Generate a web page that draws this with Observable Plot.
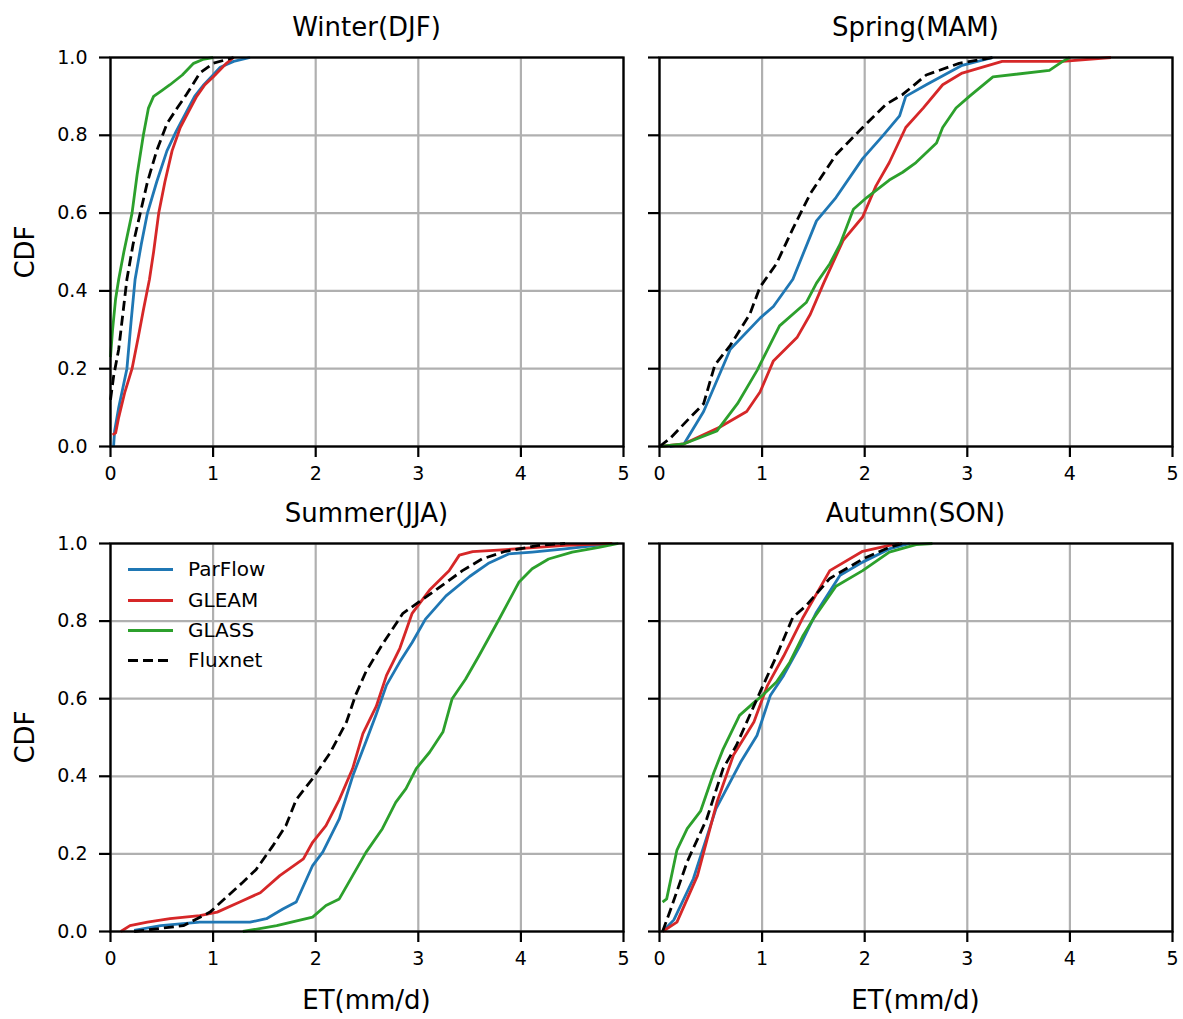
<!DOCTYPE html>
<html>
<head>
<meta charset="utf-8">
<script src="https://cdn.jsdelivr.net/npm/d3@7"></script>
<script src="https://cdn.jsdelivr.net/npm/@observablehq/plot@0.6"></script>
<style>
  body { margin: 0; background: white; font-family: "DejaVu Sans", sans-serif; }
  #fig { position: relative; width: 1183px; height: 1019px; background: white; overflow: hidden; }
  #fig > .p { position: absolute; }
  .title, .lab { position: absolute; color: black; font-size: 26px; white-space: nowrap; }
  .leg { position: absolute; font-size: 20px; color: black; }
</style>
</head>
<body>
<div id="fig"></div>
<script>
// ---------------- data (x = ET in mm/d, y = CDF) ----------------
const seriesNames = ["ParFlow", "GLEAM", "GLASS", "Fluxnet"];
const seriesColors = ["#1f77b4", "#d62728", "#2ca02c", "black"];
const panelTitles = ["Winter(DJF)", "Spring(MAM)", "Summer(JJA)", "Autumn(SON)"];
const xTicks = [0, 1, 2, 3, 4, 5];
const yTicks = [0, 0.2, 0.4, 0.6, 0.8, 1.0];

const winterParFlow = [[0.03,0.0],[0.04,0.04],[0.08,0.1],[0.16,0.2],[0.2,0.32],[0.24,0.43],[0.3,0.52],[0.36,0.6],[0.45,0.68],[0.55,0.76],[0.64,0.81],[0.74,0.86],[0.82,0.9],[0.91,0.93],[1.0,0.955],[1.07,0.975],[1.2,0.99],[1.36,1.0]];
const winterGLEAM = [[0.02,0.03],[0.05,0.035],[0.08,0.075],[0.14,0.14],[0.21,0.2],[0.27,0.28],[0.32,0.35],[0.38,0.43],[0.42,0.5],[0.47,0.6],[0.53,0.68],[0.6,0.76],[0.68,0.82],[0.76,0.86],[0.84,0.9],[0.92,0.93],[1.0,0.95],[1.13,0.985],[1.2,1.0]];
const winterGLASS = [[0.0,0.23],[0.02,0.3],[0.05,0.38],[0.08,0.43],[0.13,0.5],[0.21,0.6],[0.26,0.7],[0.32,0.8],[0.37,0.87],[0.42,0.9],[0.5,0.915],[0.58,0.93],[0.7,0.955],[0.81,0.985],[0.9,0.995],[1.0,1.0]];
const winterFluxnet = [[0.0,0.12],[0.03,0.18],[0.08,0.25],[0.16,0.43],[0.22,0.52],[0.29,0.6],[0.36,0.68],[0.45,0.76],[0.55,0.83],[0.65,0.87],[0.74,0.905],[0.8,0.93],[0.87,0.96],[1.0,0.985],[1.2,1.0]];

const springParFlow = [[0.1,0.0],[0.24,0.007],[0.43,0.09],[0.69,0.25],[0.98,0.33],[1.11,0.36],[1.3,0.43],[1.53,0.58],[1.72,0.64],[1.98,0.74],[2.18,0.8],[2.34,0.85],[2.4,0.9],[2.6,0.93],[2.95,0.98],[3.25,1.0]];
const springGLEAM = [[0.0,0.0],[0.24,0.007],[0.59,0.05],[0.85,0.09],[0.98,0.14],[1.11,0.22],[1.34,0.28],[1.47,0.34],[1.6,0.42],[1.79,0.53],[1.98,0.59],[2.11,0.67],[2.24,0.73],[2.4,0.82],[2.57,0.87],[2.76,0.93],[2.95,0.96],[3.34,0.99],[3.93,0.99],[4.4,1.0]];
const springGLASS = [[0.0,0.0],[0.24,0.007],[0.56,0.04],[0.76,0.11],[0.95,0.195],[1.17,0.31],[1.43,0.37],[1.53,0.42],[1.66,0.47],[1.76,0.52],[1.89,0.61],[2.02,0.64],[2.24,0.685],[2.37,0.705],[2.5,0.73],[2.7,0.78],[2.76,0.82],[2.89,0.87],[3.02,0.9],[3.25,0.95],[3.8,0.967],[3.93,0.99],[4.0,1.0]];
const springFluxnet = [[0.0,0.0],[0.1,0.02],[0.3,0.075],[0.43,0.11],[0.54,0.21],[0.69,0.26],[0.88,0.34],[0.98,0.41],[1.14,0.47],[1.3,0.56],[1.47,0.65],[1.72,0.75],[1.98,0.82],[2.21,0.88],[2.37,0.905],[2.6,0.955],[2.92,0.985],[3.25,1.0]];

const summerParFlow = [[0.23,0.003],[0.49,0.015],[0.87,0.024],[1.36,0.024],[1.52,0.033],[1.68,0.058],[1.81,0.076],[1.97,0.17],[2.07,0.205],[2.23,0.29],[2.36,0.4],[2.49,0.49],[2.59,0.56],[2.69,0.635],[2.82,0.695],[2.94,0.745],[3.07,0.805],[3.27,0.865],[3.5,0.915],[3.69,0.95],[3.88,0.973],[4.11,0.978],[4.43,0.986],[4.89,1.0]];
const summerGLEAM = [[0.1,0.0],[0.19,0.015],[0.36,0.024],[0.58,0.033],[0.87,0.041],[1.04,0.05],[1.26,0.076],[1.46,0.1],[1.65,0.144],[1.88,0.187],[1.97,0.23],[2.1,0.273],[2.23,0.34],[2.36,0.42],[2.46,0.51],[2.59,0.58],[2.69,0.66],[2.82,0.73],[2.94,0.82],[3.11,0.88],[3.3,0.93],[3.4,0.97],[3.53,0.979],[3.95,0.986],[4.43,0.995],[4.89,1.0]];
const summerGLASS = [[1.29,0.0],[1.62,0.015],[1.97,0.037],[2.1,0.067],[2.23,0.084],[2.36,0.144],[2.49,0.204],[2.65,0.265],[2.78,0.333],[2.88,0.368],[2.98,0.42],[3.11,0.462],[3.24,0.514],[3.33,0.6],[3.46,0.65],[3.59,0.71],[3.79,0.806],[3.98,0.9],[4.11,0.935],[4.27,0.96],[4.5,0.978],[4.76,0.99],[4.95,1.0]];
const summerFluxnet = [[0.23,0.0],[0.71,0.015],[0.97,0.05],[1.29,0.127],[1.42,0.16],[1.58,0.22],[1.71,0.273],[1.81,0.34],[1.97,0.394],[2.14,0.46],[2.3,0.54],[2.39,0.61],[2.49,0.67],[2.65,0.74],[2.85,0.82],[3.01,0.85],[3.17,0.88],[3.43,0.93],[3.62,0.96],[3.85,0.98],[4.17,0.995],[4.43,1.0]];

const autumnParFlow = [[0.03,0.0],[0.14,0.03],[0.33,0.136],[0.55,0.316],[0.79,0.436],[0.95,0.505],[1.08,0.608],[1.21,0.66],[1.37,0.737],[1.53,0.823],[1.76,0.918],[1.98,0.952],[2.24,0.986],[2.44,1.0]];
const autumnGLEAM = [[0.03,0.0],[0.17,0.024],[0.37,0.144],[0.56,0.333],[0.72,0.454],[0.92,0.54],[1.05,0.633],[1.21,0.71],[1.4,0.81],[1.66,0.93],[1.98,0.98],[2.24,0.995],[2.34,1.0]];
const autumnGLASS = [[0.03,0.076],[0.07,0.084],[0.17,0.21],[0.27,0.265],[0.4,0.31],[0.53,0.41],[0.62,0.47],[0.78,0.557],[0.92,0.59],[1.01,0.61],[1.14,0.643],[1.27,0.694],[1.4,0.763],[1.5,0.806],[1.72,0.89],[1.98,0.93],[2.24,0.978],[2.5,0.997],[2.66,1.0]];
const autumnFluxnet = [[0.03,0.0],[0.11,0.058],[0.27,0.18],[0.46,0.29],[0.62,0.42],[0.75,0.48],[0.98,0.617],[1.14,0.71],[1.3,0.81],[1.43,0.84],[1.66,0.91],[1.98,0.96],[2.24,0.99],[2.37,1.0]];

const panelData = [
  [winterParFlow, winterGLEAM, winterGLASS, winterFluxnet],
  [springParFlow, springGLEAM, springGLASS, springFluxnet],
  [summerParFlow, summerGLEAM, summerGLASS, summerFluxnet],
  [autumnParFlow, autumnGLEAM, autumnGLASS, autumnFluxnet]
];

// ---------------- layout ----------------
const fig = document.getElementById("fig");
const FW = 513;            // frame width
const frames = [
  {fx: 110, fy: 57,  fh: 389, left: true,  top: true},
  {fx: 659, fy: 57,  fh: 389, left: false, top: true},
  {fx: 110, fy: 543, fh: 388, left: true,  top: false},
  {fx: 659, fy: 543, fh: 388, left: false, top: false}
];

frames.forEach((f, i) => {
  const mL = f.left ? 110 : 35;
  const mR = f.left ? 15 : 11;
  const mT = f.top ? 57 : 48;
  const mB = f.top ? 44 : 60;
  const data = panelData[i];
  const lines = data.map((pts, k) => Plot.line(pts, {
    x: d => d[0], y: d => d[1],
    stroke: seriesColors[k], strokeWidth: 2.8,
    strokeDasharray: k === 3 ? "10,5" : null,
    strokeLinejoin: "round", strokeLinecap: "butt"
  }));
  const chart = Plot.plot({
    width: mL + FW + mR,
    height: mT + f.fh + mB,
    marginLeft: mL, marginRight: mR, marginTop: mT, marginBottom: mB,
    style: {background: "transparent", fontFamily: "DejaVu Sans, sans-serif", fontSize: "19px", color: "black", overflow: "visible"},
    x: {domain: [0, 5]},
    y: {domain: [0, 1]},
    marks: [
      Plot.gridX(xTicks, {stroke: "#b0b0b0", strokeOpacity: 1, strokeWidth: 2.2}),
      Plot.gridY(yTicks, {stroke: "#b0b0b0", strokeOpacity: 1, strokeWidth: 2.2}),
      ...lines,
      Plot.frame({stroke: "black", strokeWidth: 2.3}),
      Plot.axisX(xTicks, {tickSize: 11, tickPadding: 9, strokeWidth: 2.2, label: null, tickFormat: d => String(d), fontSize: 19}),
      Plot.axisY(yTicks, {tickSize: 11, tickPadding: 12, strokeWidth: 2.2, label: null,
        tickFormat: f.left ? (d => d.toFixed(1)) : (() => ""), fontSize: 19})
    ]
  });
  chart.classList.add("p");
  chart.style.left = (f.fx - mL) + "px";
  chart.style.top = (f.fy - mT) + "px";
  fig.appendChild(chart);

  // panel title
  const t = document.createElement("div");
  t.className = "title";
  t.textContent = panelTitles[i];
  t.style.left = f.fx + "px";
  t.style.width = FW + "px";
  t.style.textAlign = "center";
  t.style.top = (f.fy - 30 - 16) + "px";
  t.style.lineHeight = "32px";
  fig.appendChild(t);

  // y label
  if (f.left) {
    const yl = document.createElement("div");
    yl.className = "lab";
    yl.textContent = "CDF";
    yl.style.left = "25px";
    yl.style.top = (f.fy + f.fh / 2) + "px";
    yl.style.transform = "translate(-50%, -50%) rotate(-90deg)";
    fig.appendChild(yl);
  }
  // x label
  if (!f.top) {
    const xl = document.createElement("div");
    xl.className = "lab";
    xl.textContent = "ET(mm/d)";
    xl.style.left = (f.fx + FW / 2) + "px";
    xl.style.top = "1000px";
    xl.style.transform = "translate(-50%, -50%)";
    fig.appendChild(xl);
  }
});

// ---------------- legend (in Summer panel) ----------------
const legY = [569, 600, 630, 660];
seriesNames.forEach((name, k) => {
  const ln = document.createElement("div");
  ln.style.position = "absolute";
  ln.style.left = "128px";
  ln.style.width = "45px";
  ln.style.top = (legY[k] - 1.5) + "px";
  ln.style.height = "3px";
  ln.style.background = k === 3
    ? "repeating-linear-gradient(to right, black 0 10px, transparent 10px 15px)"
    : seriesColors[k];
  fig.appendChild(ln);
  const tx = document.createElement("div");
  tx.className = "leg";
  tx.textContent = name;
  tx.style.left = "188px";
  tx.style.top = (legY[k] - 12) + "px";
  tx.style.lineHeight = "24px";
  fig.appendChild(tx);
});
</script>
</body>
</html>
